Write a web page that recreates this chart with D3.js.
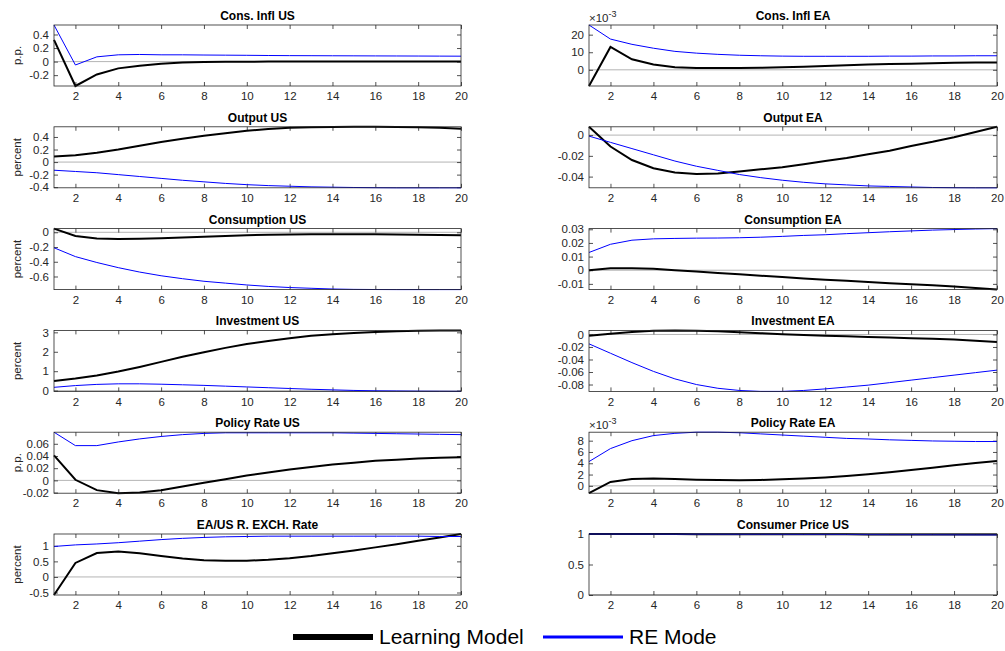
<!DOCTYPE html>
<html>
<head>
<meta charset="utf-8">
<script src="https://cdn.jsdelivr.net/npm/d3@7"></script>
<style>
  body { margin: 0; background: #fff; }
  svg { font-family: "Liberation Sans", Arial, sans-serif; }
</style>
</head>
<body>
<div class="chart"></div>
<script>
// horizon (quarters)
const steps = [1,2,3,4,5,6,7,8,9,10,11,12,13,14,15,16,17,18,19,20];

const titles = ["Cons. Infl US","Cons. Infl EA","Output US","Output EA","Consumption US","Consumption EA",
  "Investment US","Investment EA","Policy Rate US","Policy Rate EA","EA/US R. EXCH. Rate","Consumer Price US"];
const yLabels = ["p.p.","","percent","","percent","","percent","","p.p.","","percent",""];
const expLabels = [0,-3,0,0,0,0,0,0,0,-3,0,0];

const yTicks = [
  [-0.2,0,0.2,0.4], [0,0.01,0.02], [-0.4,-0.2,0,0.2,0.4], [-0.04,-0.02,0],
  [-0.6,-0.4,-0.2,0], [-0.01,0,0.01,0.02,0.03], [0,1,2,3], [-0.08,-0.06,-0.04,-0.02,0],
  [-0.02,0,0.02,0.04,0.06], [0,0.002,0.004,0.006,0.008], [-0.5,0,0.5,1], [0,0.5,1]
];

// learning model (black) and RE model (blue)
const consInflUS_L = [0.32,-0.36,-0.19,-0.10,-0.06,-0.03,-0.015,-0.007,-0.003,-0.001,0,0,0,0,0,0,0,0,0,0];
const consInflUS_R = [0.54,-0.05,0.07,0.10,0.105,0.10,0.10,0.097,0.095,0.093,0.09,0.088,0.087,0.086,0.085,0.084,0.083,0.082,0.081,0.08];
const consInflEA_L = [-0.0092,0.013,0.006,0.003,0.0015,0.001,0.001,0.001,0.0012,0.0015,0.0018,0.0022,0.0026,0.003,0.0033,0.0035,0.0037,0.004,0.0041,0.0042];
const consInflEA_R = [0.0255,0.0175,0.0145,0.0123,0.0105,0.0095,0.0088,0.0083,0.008,0.0078,0.0077,0.0077,0.0077,0.0077,0.0078,0.0078,0.0079,0.0079,0.008,0.008];
const outputUS_L = [0.09,0.11,0.15,0.2,0.26,0.32,0.37,0.42,0.46,0.5,0.525,0.545,0.555,0.56,0.562,0.562,0.56,0.555,0.545,0.53];
const outputUS_R = [-0.13,-0.15,-0.17,-0.2,-0.23,-0.26,-0.29,-0.315,-0.34,-0.36,-0.375,-0.385,-0.395,-0.4,-0.405,-0.408,-0.41,-0.41,-0.41,-0.41];
const outputEA_L = [0.008,-0.011,-0.024,-0.032,-0.036,-0.0375,-0.037,-0.035,-0.033,-0.031,-0.028,-0.025,-0.022,-0.0185,-0.015,-0.0105,-0.0065,-0.002,0.003,0.008];
const outputEA_R = [-0.001,-0.007,-0.013,-0.019,-0.025,-0.03,-0.034,-0.038,-0.041,-0.0435,-0.0455,-0.047,-0.048,-0.049,-0.0495,-0.05,-0.0505,-0.0507,-0.0508,-0.0508];
const consUS_L = [0.05,-0.05,-0.085,-0.09,-0.088,-0.08,-0.07,-0.06,-0.05,-0.04,-0.035,-0.03,-0.028,-0.028,-0.028,-0.028,-0.03,-0.033,-0.036,-0.04];
const consUS_R = [-0.21,-0.33,-0.41,-0.48,-0.54,-0.59,-0.63,-0.665,-0.69,-0.715,-0.735,-0.75,-0.76,-0.77,-0.775,-0.777,-0.778,-0.778,-0.778,-0.778];
const consEA_L = [0,0.0015,0.0015,0.001,0,-0.001,-0.002,-0.003,-0.004,-0.005,-0.006,-0.007,-0.0078,-0.0087,-0.0095,-0.0103,-0.011,-0.012,-0.013,-0.0142];
const consEA_R = [0.013,0.019,0.022,0.023,0.0233,0.0235,0.0236,0.0238,0.0242,0.0248,0.0255,0.026,0.0268,0.0275,0.0282,0.0288,0.0294,0.0298,0.0302,0.0305];
const invUS_L = [0.5,0.62,0.78,0.98,1.22,1.48,1.74,1.98,2.2,2.4,2.56,2.7,2.82,2.9,2.97,3.02,3.06,3.08,3.1,3.1];
const invUS_R = [0.17,0.26,0.32,0.35,0.35,0.33,0.3,0.27,0.23,0.19,0.15,0.11,0.07,0.04,0.01,-0.01,-0.02,-0.03,-0.035,-0.04];
const invEA_L = [-0.002,0.001,0.004,0.006,0.0065,0.006,0.005,0.0035,0.002,0.0005,-0.001,-0.002,-0.003,-0.004,-0.005,-0.006,-0.007,-0.008,-0.01,-0.012];
const invEA_R = [-0.015,-0.03,-0.045,-0.059,-0.071,-0.08,-0.086,-0.0895,-0.091,-0.091,-0.0895,-0.087,-0.084,-0.081,-0.077,-0.073,-0.069,-0.065,-0.061,-0.057];
const rateUS_L = [0.041,0.001,-0.016,-0.021,-0.02,-0.016,-0.01,-0.004,0.002,0.008,0.013,0.018,0.022,0.026,0.029,0.032,0.034,0.036,0.037,0.038];
const rateUS_R = [0.079,0.057,0.057,0.063,0.068,0.072,0.075,0.077,0.078,0.078,0.078,0.078,0.078,0.078,0.0775,0.077,0.0765,0.076,0.0755,0.075];
const rateEA_L = [-0.0013,0.0007,0.0012,0.0013,0.0012,0.0011,0.00105,0.001,0.00105,0.00115,0.0013,0.0015,0.00175,0.00205,0.0024,0.0028,0.0032,0.00365,0.00405,0.0044];
const rateEA_R = [0.0043,0.0066,0.008,0.0089,0.0093,0.0095,0.0095,0.0094,0.0092,0.009,0.0088,0.0086,0.0084,0.0083,0.00815,0.00805,0.00795,0.0079,0.00785,0.00785];
const exch_L = [-0.58,0.45,0.77,0.82,0.76,0.67,0.59,0.54,0.52,0.52,0.55,0.6,0.67,0.76,0.85,0.95,1.05,1.16,1.27,1.38];
const exch_R = [0.98,1.03,1.06,1.1,1.15,1.2,1.24,1.27,1.29,1.3,1.31,1.31,1.31,1.31,1.31,1.31,1.31,1.31,1.3,1.3];
const cpiUS_L = [1,0.999,0.999,0.998,0.998,0.997,0.997,0.996,0.996,0.995,0.995,0.994,0.994,0.993,0.993,0.992,0.992,0.991,0.991,0.99];
const cpiUS_R = [1,0.999,0.999,0.998,0.997,0.997,0.996,0.995,0.995,0.994,0.993,0.993,0.992,0.991,0.99,0.99,0.989,0.988,0.987,0.986];

const learning = [consInflUS_L,consInflEA_L,outputUS_L,outputEA_L,consUS_L,consEA_L,invUS_L,invEA_L,rateUS_L,rateEA_L,exch_L,cpiUS_L];
const rational = [consInflUS_R,consInflEA_R,outputUS_R,outputEA_R,consUS_R,consEA_R,invUS_R,invEA_R,rateUS_R,rateEA_R,exch_R,cpiUS_R];
// panels whose y-limits are not tight to the data
const fixedDomains = {11: [0, 1]};

const legendNames = ["Learning Model", "RE Mode"];
const colors = ["#000000", "#0000ff"];

const W = 1005, H = 651;
const colX = [[54, 461], [589, 997]];
const rowTop0 = 25, rowStep = 101.8, plotH = 61;
const axCol = "#262626";

const svg = d3.select(".chart").append("svg")
  .attr("width", W).attr("height", H);

titles.forEach((title, i) => {
  const col = i % 2, row = Math.floor(i / 2);
  const x0 = colX[col][0], x1 = colX[col][1];
  const top = rowTop0 + row * rowStep;
  const g = svg.append("g").attr("transform", "translate(" + x0 + "," + top + ")");
  const w = x1 - x0;

  const dom = fixedDomains[i] || d3.extent(learning[i].concat(rational[i]));
  const x = d3.scaleLinear().domain([1, 20]).range([0, w]);
  const y = d3.scaleLinear().domain(dom).range([plotH, 0]);

  const scale = expLabels[i] ? Math.pow(10, -expLabels[i]) : 1;
  const fmt = (d) => {
    const v = Math.round(d * scale * 1e6) / 1e6;
    return v === 0 ? "0" : String(v);
  };

  // zero line
  if (dom[0] <= 0 && dom[1] >= 0) {
    g.append("line")
      .attr("x1", 0).attr("x2", w)
      .attr("y1", y(0)).attr("y2", y(0))
      .attr("stroke", "#b4b4b4").attr("stroke-width", 1);
  }

  const xt = [2,4,6,8,10,12,14,16,18,20];
  // axes, ticks pointing inward
  const bottom = g.append("g").attr("transform", "translate(0," + plotH + ")")
    .call(d3.axisBottom(x).tickValues(xt).tickSize(-4).tickPadding(6));
  const topAx = g.append("g")
    .call(d3.axisTop(x).tickValues(xt).tickSize(-4).tickFormat(""));
  const left = g.append("g")
    .call(d3.axisLeft(y).tickValues(yTicks[i]).tickSize(-4).tickPadding(5).tickFormat(fmt));
  const right = g.append("g").attr("transform", "translate(" + w + ",0)")
    .call(d3.axisRight(y).tickValues(yTicks[i]).tickSize(-4).tickFormat(""));

  [bottom, topAx, left, right].forEach((a) => {
    a.select(".domain").remove();
    a.selectAll(".tick line").attr("stroke", axCol).attr("stroke-width", 0.8);
    a.selectAll("text").attr("fill", axCol).style("font-size", "11.5px");
  });

  const line = d3.line().x((d, k) => x(steps[k])).y((d) => y(d));
  g.append("path").datum(learning[i])
    .attr("d", line).attr("fill", "none")
    .attr("stroke", colors[0]).attr("stroke-width", 2);
  g.append("path").datum(rational[i])
    .attr("d", line).attr("fill", "none")
    .attr("stroke", colors[1]).attr("stroke-width", 1);

  g.append("rect")
    .attr("x", 0).attr("y", 0).attr("width", w).attr("height", plotH)
    .attr("fill", "none").attr("stroke", axCol).attr("stroke-width", 0.8);

  g.append("text")
    .attr("x", w / 2).attr("y", -5)
    .attr("text-anchor", "middle")
    .style("font-size", "12px").style("font-weight", "bold")
    .attr("fill", "#000")
    .text(title);

  if (yLabels[i]) {
    g.append("text")
      .attr("transform", "translate(" + (col === 0 ? -33 : -40) + "," + plotH / 2 + ") rotate(-90)")
      .attr("text-anchor", "middle")
      .attr("fill", axCol)
      .style("font-size", "11.5px")
      .text(yLabels[i]);
  }

  if (expLabels[i]) {
    const t = g.append("text")
      .attr("x", 0).attr("y", -3)
      .attr("fill", axCol)
      .style("font-size", "11.5px");
    t.append("tspan").text("\u00d710");
    t.append("tspan").attr("dy", -5).style("font-size", "9px").text(expLabels[i]);
  }
});

// legend
const legend = svg.append("g");
const legX = [293, 543];
legendNames.forEach((name, k) => {
  legend.append("line")
    .attr("x1", legX[k]).attr("x2", legX[k] + 80)
    .attr("y1", 637).attr("y2", 637)
    .attr("stroke", colors[k]).attr("stroke-width", k === 0 ? 6 : 3);
  legend.append("text")
    .attr("x", legX[k] + 86).attr("y", 644)
    .attr("fill", "#000")
    .style("font-size", "21px")
    .text(name);
});
</script>
</body>
</html>
